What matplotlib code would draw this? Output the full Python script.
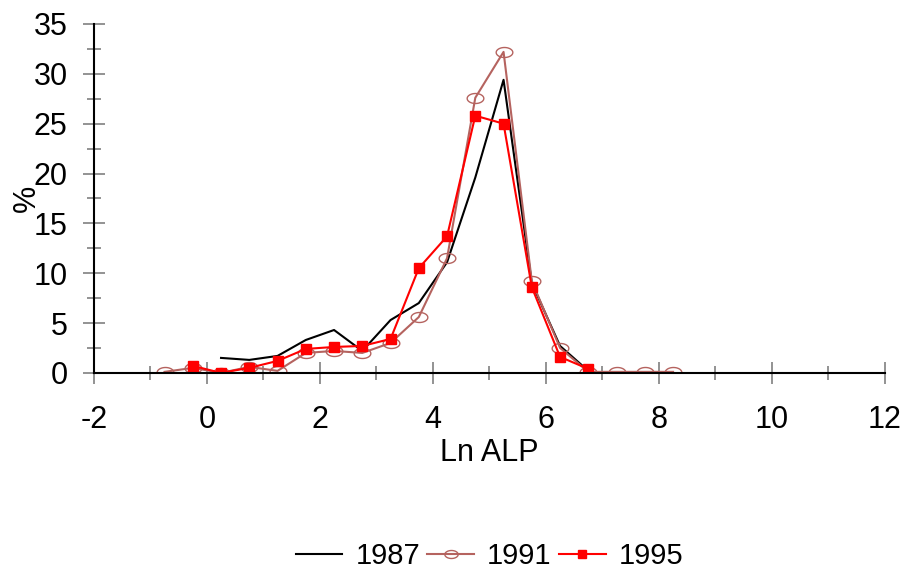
import numpy as np
import matplotlib
matplotlib.use("Agg")
import matplotlib.pyplot as plt
from matplotlib.path import Path

plt.rcParams['font.family'] = ['Liberation Sans', 'DejaVu Sans']
plt.rcParams['axes.unicode_minus'] = False

# bin centres (Ln ALP)
x_1987 = [0.25, 0.75, 1.25, 1.75, 2.25, 2.75, 3.25, 3.75, 4.25, 4.75, 5.25, 5.75, 6.25, 6.75]
y_1987 = [1.5, 1.3, 1.7, 3.3, 4.3, 2.2, 5.3, 7.0, 11.1, 19.6, 29.4, 9.0, 2.7, 0.2]

x_1991 = [-0.75, -0.25, 0.25, 0.75, 1.25, 1.75, 2.25, 2.75, 3.25, 3.75, 4.25, 4.75,
          5.25, 5.75, 6.25, 6.75, 7.25, 7.75, 8.25]
y_1991 = [0.1, 0.5, 0.0, 0.6, 0.2, 2.0, 2.2, 2.0, 3.0, 5.6, 11.5, 27.6,
          32.2, 9.2, 2.5, 0.1, 0.1, 0.1, 0.1]

x_1995 = [-0.25, 0.25, 0.75, 1.25, 1.75, 2.25, 2.75, 3.25, 3.75, 4.25, 4.75,
          5.25, 5.75, 6.25, 6.75]
y_1995 = [0.7, 0.0, 0.5, 1.2, 2.4, 2.6, 2.7, 3.4, 10.5, 13.7, 25.8,
          25.0, 8.6, 1.6, 0.4]

# flattened circle marker
t = np.linspace(0, 2*np.pi, 41)
ellipse = Path(np.column_stack([np.cos(t), 0.6*np.sin(t)]), closed=True)

fig = plt.figure(figsize=(9.03, 5.71), dpi=100)
ax = fig.add_axes([0.104, 0.347, 0.876, 0.611])

brown = '#b5635f'
ax.plot(x_1987, y_1987, color='black', lw=1.5, label='1987')
ax.plot(x_1991, y_1991, color=brown, lw=1.5, marker=ellipse, ms=12,
        mfc='none', mec=brown, mew=1.0, label='1991')
ax.plot(x_1995, y_1995, color='red', lw=1.5, marker='s', ms=7,
        mfc='red', mec='red', label='1995')

ax.set_xlim(-2, 12)
ax.set_ylim(0, 35)
ax.set_xticks(np.arange(-2, 13, 2))
ax.set_xticks(np.arange(-2, 13, 1), minor=True)
ax.set_yticks(np.arange(0, 36, 5))
ax.set_yticks(np.arange(0, 36, 2.5), minor=True)

for s in ['top', 'right']:
    ax.spines[s].set_visible(False)
ax.spines['left'].set_linewidth(1.5)
ax.spines['bottom'].set_linewidth(1.5)
ax.tick_params(which='major', direction='inout', length=16, width=1.2,
               color='#808080', labelsize=22)
ax.tick_params(which='minor', direction='inout', length=10, width=1.2,
               color='#808080')
ax.tick_params(axis='x', which='major', pad=15)
ax.tick_params(axis='y', which='major', pad=11)

ax.set_xlabel('Ln ALP', fontsize=22, labelpad=2)
ax.set_ylabel('%', fontsize=22, labelpad=-6)

fig.legend(loc='lower center', bbox_to_anchor=(0.542, -0.045), ncol=3, frameon=False,
           fontsize=21, handlelength=1.6, columnspacing=0.25, handletextpad=0.45,
           markerscale=0.8)

fig.savefig('out.png', dpi=100)
